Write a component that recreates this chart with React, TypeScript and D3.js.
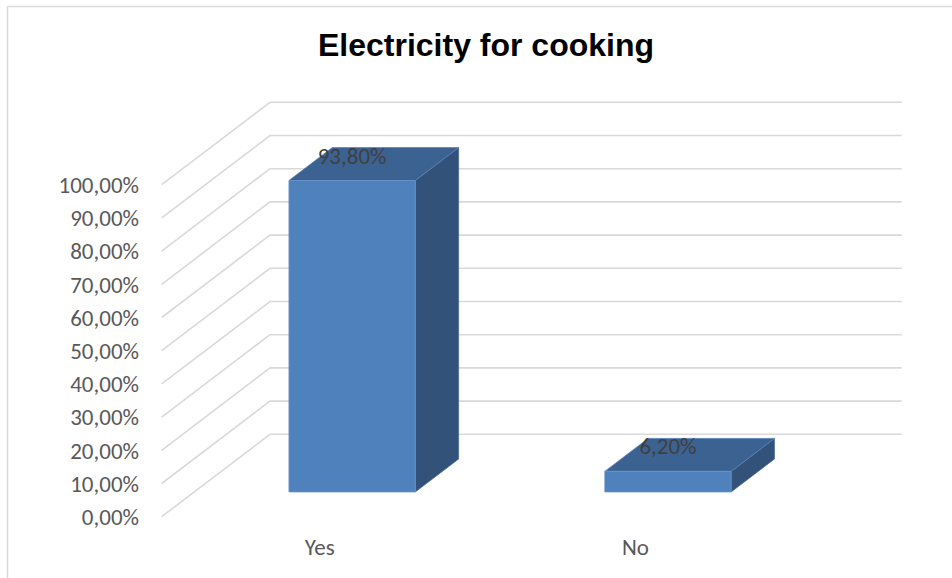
import React from "react";
import * as d3 from "d3";

// Chart data
const categories: string[] = ["Yes", "No"];
const values: number[] = [0.938, 0.062];
const titleText = "Electricity for cooking";

const W = 952;
const H = 578;

// 3D frame: front plane and the depth vector going back-right
const frontLeft = 161.7;
const frontRight = 793.4;
const floorY = 516.7;
const topY = 184.7;
const depthDx = 108.3;
const depthDy = -82.4;
const gapWidth = 1.5; // bar gap width as a fraction of bar width
const gapDepth = 1.5; // bar gap depth as a fraction of bar depth

const locale = d3.formatLocale({
  decimal: ",",
  thousands: ".",
  grouping: [3],
  currency: ["", "€"],
});
const pct = locale.format(".2%");

export default function App() {
  const x = d3.scaleBand<string>().domain(categories).range([frontLeft, frontRight]);
  const y = d3.scaleLinear().domain([0, 1]).range([floorY, topY]);
  const depth = d3.scaleLinear().domain([0, 1]).range([0, 1]);
  const ticks = y.ticks(10);

  const slot = x.bandwidth();
  const barW = slot / (1 + gapWidth);
  const barDepth = 1 / (1 + gapDepth);
  const d0 = (1 - barDepth) / 2;
  const d1 = d0 + barDepth;

  // project a point (front-plane x, value, depth fraction) to screen
  const P = (px: number, v: number, d: number): [number, number] => [
    px + depth(d) * depthDx,
    y(v) + depth(d) * depthDy,
  ];
  const poly = (pts: [number, number][]) => pts.map((p) => p.join(",")).join(" ");

  const labelFont = "Carlito, Calibri, Lato, sans-serif";

  return (
    <svg
      width={W}
      height={H}
      style={{ position: "absolute", left: 0, top: 0, background: "#fff" }}
    >
      <rect x={7.5} y={6.5} width={1200} height={800} fill="#fff" stroke="#D9D9D9" strokeWidth={1.5} />

      <text
        x={486}
        y={56}
        textAnchor="middle"
        fontFamily="Liberation Sans, Arial, sans-serif"
        fontWeight="bold"
        fontSize={32}
        fill="#000"
      >
        {titleText}
      </text>

      {/* side wall diagonals and back wall gridlines */}
      <g stroke="#D9D9D9" strokeWidth={1.6} fill="none">
        {ticks.map((t) => {
          const a = P(frontLeft, t, 0);
          const b = P(frontLeft, t, 1);
          const c = P(frontRight, t, 1);
          return <polyline key={t} points={poly([a, b, c])} />;
        })}
      </g>

      {/* y axis labels */}
      <g fontFamily={labelFont} fontSize={23} fill="#595959" textAnchor="end">
        {ticks.map((t) => (
          <text key={t} x={139} y={y(t)} dy="0.36em">
            {pct(t)}
          </text>
        ))}
      </g>

      {/* bars */}
      {categories.map((c, i) => {
        const v = values[i];
        const xl = (x(c) as number) + (slot - barW) / 2;
        const xr = xl + barW;
        const front = [P(xl, 0, d0), P(xr, 0, d0), P(xr, v, d0), P(xl, v, d0)];
        const top = [P(xl, v, d0), P(xr, v, d0), P(xr, v, d1), P(xl, v, d1)];
        const side = [P(xr, 0, d0), P(xr, 0, d1), P(xr, v, d1), P(xr, v, d0)];
        return (
          <g key={c} strokeWidth={0.8} strokeLinejoin="round">
            <polygon points={poly(side)} fill="#32527A" stroke="#4a6d99" />
            <polygon points={poly(top)} fill="#3C6292" stroke="#5680b5" />
            <polygon points={poly(front)} fill="#4F81BD" stroke="#6b96cc" />
          </g>
        );
      })}

      {/* data labels */}
      <g fontFamily={labelFont} fontSize={23} fill="#404040" textAnchor="middle">
        {categories.map((c, i) => {
          const cx = (x(c) as number) + slot / 2;
          const [px, py] = P(cx, values[i], d0);
          return (
            <text key={c} x={px} y={py - 17}>
              {pct(values[i])}
            </text>
          );
        })}
      </g>

      {/* category labels */}
      <g fontFamily={labelFont} fontSize={23} fill="#595959" textAnchor="middle">
        {categories.map((c) => (
          <text key={c} x={(x(c) as number) + slot / 2} y={555}>
            {c}
          </text>
        ))}
      </g>
    </svg>
  );
}
